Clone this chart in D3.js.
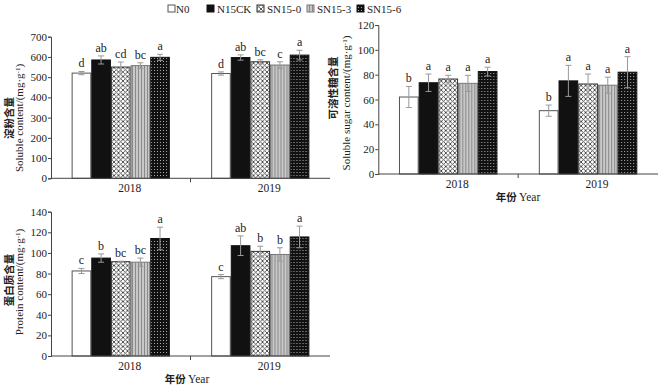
<!DOCTYPE html>
<html><head><meta charset="utf-8">
<script src="https://cdn.jsdelivr.net/npm/d3@7"></script>
<style>
body{margin:0;background:#fff;}
svg text{font-family:"Liberation Serif","Times New Roman",serif;fill:#222;}
.cn{font-family:"Noto Sans CJK SC",sans-serif;font-weight:700;}
</style></head><body>
<svg id="c" width="658" height="390"></svg>
<script>
const years = ["2018","2019"];
const series = ["N0","N15CK","SN15-0","SN15-3","SN15-6"];

const starchVals = [[520,585,550,557,598],[518,597,576,560,609]];
const starchErr  = [[8,20,25,14,15],[8,13,10,16,24]];
const starchSig  = [["d","ab","cd","bc","a"],["d","ab","bc","c","a"]];

const sugarVals = [[62,73.5,76.5,73,82.5],[51,75,72.5,71.5,82]];
const sugarErr  = [[8.5,7,3,6.5,3.5],[4.5,12.5,8,6.5,12.5]];
const sugarSig  = [["b","a","a","a","a"],["b","a","a","a","a"]];

const protVals = [[82.5,95,91.5,91,114],[77,107,101.5,98.5,115.5]];
const protErr  = [[2.5,4,0.5,4,11],[2,9.5,5,6.5,10.5]];
const protSig  = [["c","b","bc","bc","a"],["c","ab","b","b","a"]];

const starchTicks = [0,100,200,300,400,500,600,700];
const sugarTicks = [0,20,40,60,80,100,120];
const protTicks = [0,20,40,60,80,100,120,140];

const svg = d3.select("#c");
const defs = svg.append("defs");

const p0 = defs.append("pattern").attr("id","pat0").attr("patternUnits","userSpaceOnUse").attr("width",4.5).attr("height",4.5);
p0.append("rect").attr("width",4.5).attr("height",4.5).attr("fill","#fff");
p0.append("path").attr("d","M0,0L4.5,4.5M4.5,0L0,4.5").attr("stroke","#444").attr("stroke-width",0.9);
const p3 = defs.append("pattern").attr("id","pat3").attr("patternUnits","userSpaceOnUse").attr("width",3).attr("height",3);
p3.append("rect").attr("width",3).attr("height",3).attr("fill","#c8c8c8");
p3.append("rect").attr("width",1).attr("height",3).attr("fill","#8a8a8a");
const p6 = defs.append("pattern").attr("id","pat6").attr("patternUnits","userSpaceOnUse").attr("width",3).attr("height",3);
p6.append("rect").attr("width",3).attr("height",3).attr("fill","#111");
p6.append("rect").attr("x",1).attr("y",1).attr("width",1).attr("height",1).attr("fill","#aaa");

const fills = ["#fff","#111","url(#pat0)","url(#pat3)","url(#pat6)"];
const strokes = ["#555","#111","#333","#777","#111"];

function chart(o){
  const g = svg.append("g");
  const x0 = d3.scaleBand().domain(years).range([o.x0,o.x1]).paddingInner(0).paddingOuter(0);
  const x1 = d3.scaleBand().domain(series).range([0,x0.bandwidth()]).paddingInner(0).paddingOuter(1.05);
  const y = d3.scaleLinear().domain([0,o.max]).range([o.yb,o.yt]);

  const ya = g.append("g").attr("transform",`translate(${o.x0},0)`)
    .call(d3.axisLeft(y).tickValues(o.ticks).tickSize(3).tickPadding(1));
  ya.select(".domain").attr("stroke","#444");
  ya.selectAll(".tick line").attr("stroke","#444");
  ya.selectAll("text").style("font-size","11px").style("font-family","Liberation Serif").attr("fill","#222");

  years.forEach((yr,i)=>{
    const gg = g.append("g").attr("transform",`translate(${x0(yr)},0)`);
    series.forEach((s,j)=>{
      const v = o.vals[i][j], e = o.err[i][j];
      gg.append("rect").attr("x",x1(s)+0.5).attr("y",y(v)).attr("width",x1.bandwidth()-1).attr("height",y(0)-y(v))
        .attr("fill",fills[j]).attr("stroke",strokes[j]).attr("stroke-width",1);
      const cx = x1(s)+x1.bandwidth()/2;
      gg.append("path").attr("d",`M${cx},${y(v-e)}V${y(v+e)}M${cx-3},${y(v+e)}H${cx+3}M${cx-3},${y(v-e)}H${cx+3}`)
        .attr("stroke","#999").attr("stroke-width",1).attr("fill","none");
      gg.append("text").attr("x",cx).attr("y",y(v+e)-4).attr("text-anchor","middle")
        .style("font-size","12px").text(o.sig[i][j]);
    });
  });

  g.append("line").attr("x1",o.x0).attr("x2",o.x1).attr("y1",y(0)).attr("y2",y(0)).attr("stroke","#444");
  g.append("line").attr("x1",x0("2019")).attr("x2",x0("2019")).attr("y1",y(0)).attr("y2",y(0)+4).attr("stroke","#444");
  years.forEach(yr=>{
    g.append("text").attr("x",x0(yr)+x0.bandwidth()/2+9).attr("y",y(0)+14).attr("text-anchor","middle")
      .style("font-size","11.5px").text(yr);
  });
  if(o.xtitle){
    const t = g.append("text").attr("x",o.xtitleX).attr("y",y(0)+27).attr("text-anchor","middle").style("font-size","11.5px");
    t.append("tspan").attr("class","cn").style("font-size","10.5px").text("年份 ");
    t.append("tspan").text("Year");
  }
  g.append("text").attr("class","cn").attr("transform",`translate(${o.cnX},${o.cnY}) rotate(-90)`)
    .attr("text-anchor","middle").style("font-size","10.5px").text(o.cn);
  const en = g.append("text").attr("transform",`translate(${o.enX},${o.enY}) rotate(-90)`)
    .attr("text-anchor","middle").style("font-size","11px");
  en.append("tspan").text(o.en);
  en.append("tspan").attr("dy",-3).style("font-size","7px").text("-1");
  en.append("tspan").attr("dy",3).text(")");
}

chart({x0:51,x1:330,yb:178.3,yt:36.7,max:700,ticks:starchTicks,vals:starchVals,err:starchErr,sig:starchSig,
  cn:"淀粉含量",cnX:13,cnY:118,en:"Soluble content/(mg·g",enX:23,enY:118,xtitle:false});
chart({x0:378.3,x1:658,yb:174,yt:25,max:120,ticks:sugarTicks,vals:sugarVals,err:sugarErr,sig:sugarSig,
  cn:"可溶性糖含量",cnX:337,cnY:88,en:"Soluble sugar content/(mg·g",enX:350,enY:103,xtitle:true,xtitleX:518});
chart({x0:51,x1:330,yb:356,yt:211.7,max:140,ticks:protTicks,vals:protVals,err:protErr,sig:protSig,
  cn:"蛋白质含量",cnX:13,cnY:280,en:"Protein content/(mg·g",enX:23,enY:282,xtitle:true,xtitleX:187});

const legX = [168,207,257,307,357];
const leg = svg.append("g");
series.forEach((s,j)=>{
  leg.append("rect").attr("x",legX[j]).attr("y",5).attr("width",7).attr("height",7)
    .attr("fill",fills[j]).attr("stroke",strokes[j]);
  leg.append("text").attr("x",legX[j]+(j===0?8:10)).attr("y",12.5).style("font-size","11px").text(s);
});
</script>
</body></html>
